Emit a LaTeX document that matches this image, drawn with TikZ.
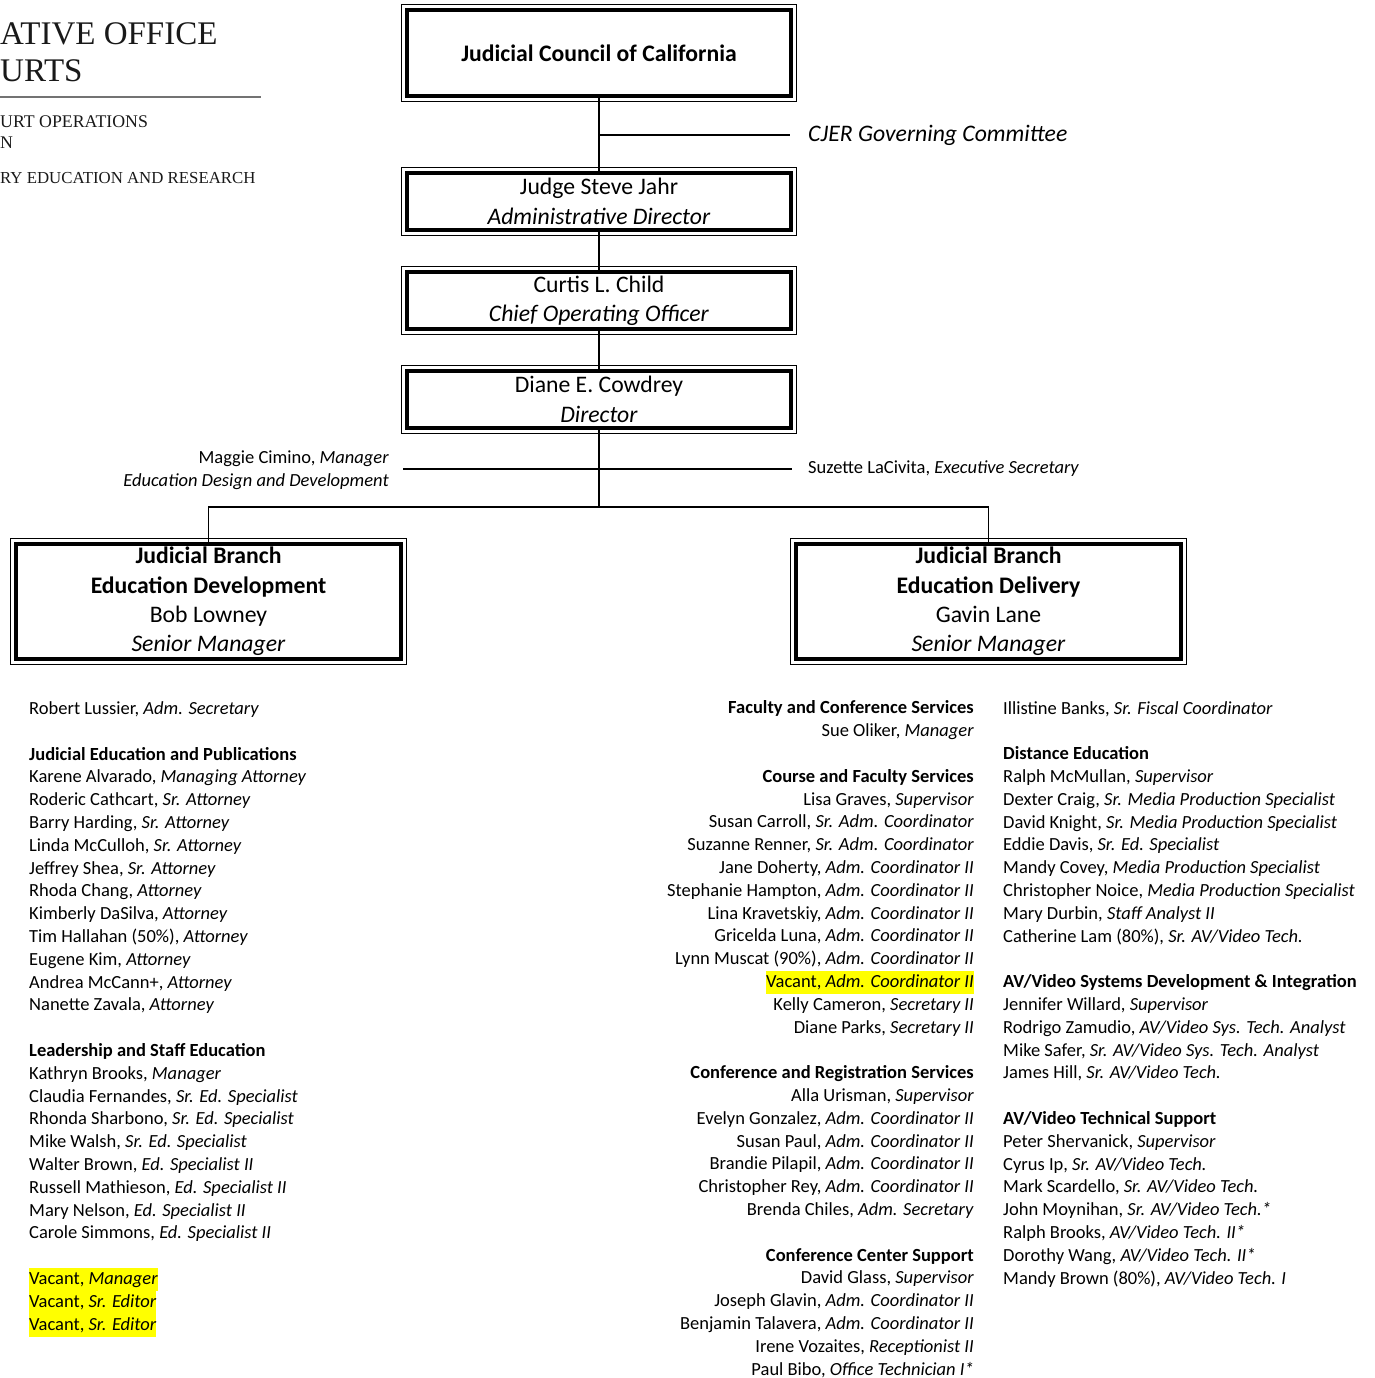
\documentclass[tikz,border=0pt]{standalone}
\usepackage{fontspec}
\setmainfont{Carlito}
\newfontfamily\headfont{Liberation Serif}
\usepackage{tikz}
\usetikzlibrary{calc}
\usepackage{xcolor}
\definecolor{hiyellow}{RGB}{255,255,0}
\definecolor{headgray}{RGB}{25,25,25}
\newcommand{\boxfont}{\fontsize{23.7}{29.3}\selectfont}
\newcommand{\listfont}{\fontsize{18.5}{22.8}\selectfont}
\newcommand{\vacant}[1]{{\setlength{\fboxsep}{0pt}\colorbox{hiyellow}{\strut #1}}}

\begin{document}
\begin{tikzpicture}[
    x=1pt, y=-1pt,
    orgbox/.style={draw, line width=3.3pt, minimum width=384pt, inner sep=0pt, align=center, font=\boxfont},
    frame/.style={draw, line width=1.3pt},
    link/.style={line width=1.6pt},
    sidelabel/.style={font=\listfont, inner ysep=0pt},
    staff/.style={font=\listfont, inner sep=0pt},
    head/.style={inner sep=0pt, text=headgray, anchor=base west}
]
\useasboundingbox (0,0) rectangle (1375,1378);

% Letterhead (cut at the left edge)
\node[head, font=\headfont\fontsize{33}{36}\selectfont] (hd1) at (0,45) {ATIVE OFFICE};
\node[head, font=\headfont\fontsize{33}{36}\selectfont] (hd2) at (0,82) {URTS};
\draw[black!55, line width=1.6pt] (0,97) -- (261,97);
\node[head, font=\headfont\fontsize{17.8}{20}\selectfont] (hd3) at (0,128) {URT OPERATIONS};
\node[head, font=\headfont\fontsize{17.8}{20}\selectfont] (hd4) at (0,148) {N};
\node[head, font=\headfont\fontsize{16.8}{20}\selectfont] (hd5) at (0,183) {RY EDUCATION AND RESEARCH};

% Chain of command
\node[orgbox, minimum height=86pt] (council) at (599,53) {\textbf{Judicial Council of California}};
\node[orgbox, minimum height=57pt] (jahr) at (599,201.5) {Judge Steve Jahr\\\textit{Administrative Director}};
\node[orgbox, minimum height=57pt] (child) at (599,300.5) {Curtis L. Child\\\textit{Chief Operating Officer}};
\node[orgbox, minimum height=57pt] (cowdrey) at (599,399.5) {Diane E. Cowdrey\\\textit{Director}};

\coordinate (cjerjoin) at (599,135);
\node[anchor=west, font=\boxfont, inner xsep=18pt, inner ysep=0pt] (cjer) at (790,135) {\textit{CJER Governing Committee}};

\draw[link] (council.south) -- (jahr.north);
\draw[link] (cjerjoin) -- (cjer.west);
\draw[link] (jahr.south) -- (child.north);
\draw[link] (child.south) -- (cowdrey.north);

% Staff reporting to the director
\node[sidelabel, anchor=east, align=right, inner xsep=14pt] (cimino) at (403,470) {Maggie Cimino, \textit{Manager}\\\textit{Education Design and Development}};
\node[sidelabel, anchor=west, inner xsep=16pt] (lacivita) at (792,469) {Suzette LaCivita, \textit{Executive Secretary}};
\draw[link] (cimino.east |- lacivita.west) -- (lacivita.west);

% Two branches
\node[orgbox, minimum width=385pt, minimum height=115pt] (devel) at (208.5,601.5)
    {\textbf{Judicial Branch}\\\textbf{Education Development}\\Bob Lowney\\\textit{Senior Manager}};
\node[orgbox, minimum width=385pt, minimum height=115pt] (deliv) at (988.5,601.5)
    {\textbf{Judicial Branch}\\\textbf{Education Delivery}\\Gavin Lane\\\textit{Senior Manager}};

% thin outer line of the double frames
\foreach \n in {council, jahr, child, cowdrey, devel, deliv}
    \draw[frame] ([shift={(-4,-4)}]\n.north west) rectangle ([shift={(4,4)}]\n.south east);

\coordinate (split) at (599,507);
\draw[link] (cowdrey.south) -- (split);
\draw[link] (devel.north) |- (split) -| (deliv.north);

% Education Development staff (placed by the baseline of the last line)
\node[staff, anchor=base west, align=left] (devstaff) at (29,1330) {%
Robert Lussier, \textit{Adm. Secretary}\\[\baselineskip]
\textbf{Judicial Education and Publications}\\
Karene Alvarado, \textit{Managing Attorney}\\
Roderic Cathcart, \textit{Sr. Attorney}\\
Barry Harding, \textit{Sr. Attorney}\\
Linda McCulloh, \textit{Sr. Attorney}\\
Jeffrey Shea, \textit{Sr. Attorney}\\
Rhoda Chang, \textit{Attorney}\\
Kimberly DaSilva, \textit{Attorney}\\
Tim Hallahan (50\%), \textit{Attorney}\\
Eugene Kim, \textit{Attorney}\\
Andrea McCann+, \textit{Attorney}\\
Nanette Zavala, \textit{Attorney}\\[\baselineskip]
\textbf{Leadership and Staff Education}\\
Kathryn Brooks, \textit{Manager}\\
Claudia Fernandes, \textit{Sr. Ed. Specialist}\\
Rhonda Sharbono, \textit{Sr. Ed. Specialist}\\
Mike Walsh, \textit{Sr. Ed. Specialist}\\
Walter Brown, \textit{Ed. Specialist II}\\
Russell Mathieson, \textit{Ed. Specialist II}\\
Mary Nelson, \textit{Ed. Specialist II}\\
Carole Simmons, \textit{Ed. Specialist II}\\[\baselineskip]
\vacant{Vacant, \textit{Manager}}\\
\vacant{Vacant, \textit{Sr. Editor}}\\
\vacant{Vacant, \textit{Sr. Editor}}};

% Education Delivery staff, right-aligned column
\node[staff, anchor=base east, align=right] (confstaff) at (974,1375) {%
\textbf{Faculty and Conference Services}\\
Sue Oliker, \textit{Manager}\\[\baselineskip]
\textbf{Course and Faculty Services}\\
Lisa Graves, \textit{Supervisor}\\
Susan Carroll, \textit{Sr. Adm. Coordinator}\\
Suzanne Renner, \textit{Sr. Adm. Coordinator}\\
Jane Doherty, \textit{Adm. Coordinator II}\\
Stephanie Hampton, \textit{Adm. Coordinator II}\\
Lina Kravetskiy, \textit{Adm. Coordinator II}\\
Gricelda Luna, \textit{Adm. Coordinator II}\\
Lynn Muscat (90\%), \textit{Adm. Coordinator II}\\
\vacant{Vacant, \textit{Adm. Coordinator II}}\\
Kelly Cameron, \textit{Secretary II}\\
Diane Parks, \textit{Secretary II}\\[\baselineskip]
\textbf{Conference and Registration Services}\\
Alla Urisman, \textit{Supervisor}\\
Evelyn Gonzalez, \textit{Adm. Coordinator II}\\
Susan Paul, \textit{Adm. Coordinator II}\\
Brandie Pilapil, \textit{Adm. Coordinator II}\\
Christopher Rey, \textit{Adm. Coordinator II}\\
Brenda Chiles, \textit{Adm. Secretary}\\[\baselineskip]
\textbf{Conference Center Support}\\
David Glass, \textit{Supervisor}\\
Joseph Glavin, \textit{Adm. Coordinator II}\\
Benjamin Talavera, \textit{Adm. Coordinator II}\\
Irene Vozaites, \textit{Receptionist II}\\
Paul Bibo, \textit{Office Technician I*}};

% Education Delivery staff, left-aligned column
\node[staff, anchor=base west, align=left] (avstaff) at (1003,1284) {%
Illistine Banks, \textit{Sr. Fiscal Coordinator}\\[\baselineskip]
\textbf{Distance Education}\\
Ralph McMullan, \textit{Supervisor}\\
Dexter Craig, \textit{Sr. Media Production Specialist}\\
David Knight, \textit{Sr. Media Production Specialist}\\
Eddie Davis, \textit{Sr. Ed. Specialist}\\
Mandy Covey, \textit{Media Production Specialist}\\
Christopher Noice, \textit{Media Production Specialist}\\
Mary Durbin, \textit{Staff Analyst II}\\
Catherine Lam (80\%), \textit{Sr. AV/Video Tech.}\\[\baselineskip]
\textbf{AV/Video Systems Development \& Integration}\\
Jennifer Willard, \textit{Supervisor}\\
Rodrigo Zamudio, \textit{AV/Video Sys. Tech. Analyst}\\
Mike Safer, \textit{Sr. AV/Video Sys. Tech. Analyst}\\
James Hill, \textit{Sr. AV/Video Tech.}\\[\baselineskip]
\textbf{AV/Video Technical Support}\\
Peter Shervanick, \textit{Supervisor}\\
Cyrus Ip, \textit{Sr. AV/Video Tech.}\\
Mark Scardello, \textit{Sr. AV/Video Tech.}\\
John Moynihan, \textit{Sr. AV/Video Tech.*}\\
Ralph Brooks, \textit{AV/Video Tech. II*}\\
Dorothy Wang, \textit{AV/Video Tech. II*}\\
Mandy Brown (80\%), \textit{AV/Video Tech. I}};
\end{tikzpicture}
\end{document}
